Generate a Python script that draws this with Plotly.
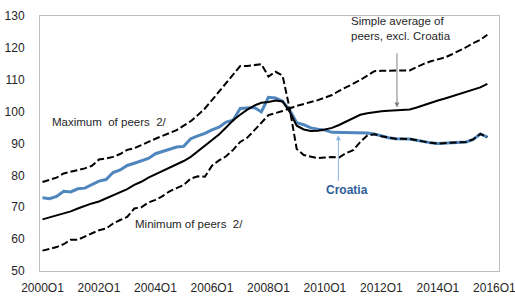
import plotly.graph_objects as go

years = list(range(2000, 2016))
quarters = [f"{y}Q{q}" for y in years for q in range(1, 5)]

croatia = [73.0, 72.7, 73.4, 75.0, 74.8, 75.8, 76.0, 77.0, 78.2, 78.7,
           80.9, 81.7, 83.1, 83.8, 84.6, 85.3, 86.8, 87.5, 88.2, 88.9,
           89.1, 91.5, 92.4, 93.2, 94.3, 95.1, 96.7, 97.3, 101.0, 101.2,
           101.3, 99.9, 104.5, 104.3, 103.3, 100.5, 96.5, 95.9, 94.9, 94.5,
           94.2, 93.5, 93.5, 93.5, 93.4, 93.3, 93.3, 93.0, 92.3, 91.8,
           91.5, 91.5, 91.4, 91.0, 90.5, 90.2, 90.0, 90.1, 90.4, 90.5,
           90.5, 91.3, 93.0, 92.0]

peer_avg = [66.2, 66.8, 67.4, 68.1, 68.7, 69.6, 70.5, 71.2, 71.8, 72.8,
            73.7, 74.7, 75.7, 77.0, 78.0, 79.3, 80.3, 81.3, 82.4, 83.3,
            84.5, 85.8, 87.5, 89.3, 91.0, 92.8, 95.0, 97.3, 99.0, 100.6,
            101.9, 102.8, 103.0, 103.5, 103.2, 100.0, 95.6, 94.4, 93.9, 94.0,
            94.4, 94.9, 95.8, 96.8, 97.9, 99.0, 99.5, 99.9, 100.1, 100.3,
            100.4, 100.5, 100.7, 101.3, 102.1, 102.9, 103.5, 104.1, 104.8, 105.5,
            106.3, 107.0, 107.6, 108.7]

peer_max = [77.9, 78.6, 79.3, 80.6, 81.1, 81.6, 82.2, 83.0, 85.0, 85.3,
            85.8, 86.7, 88.0, 88.5, 89.6, 90.5, 91.5, 92.3, 93.3, 94.2,
            95.5, 97.0, 98.9, 101.0, 103.6, 106.2, 108.8, 111.5, 114.3, 114.3,
            114.6, 114.9, 111.0, 112.5, 111.3, 101.0, 101.8, 102.3, 103.0, 103.6,
            104.4, 105.2, 106.5, 107.6, 108.6, 109.9, 111.3, 112.7, 112.8, 112.9,
            112.9, 112.9, 112.9, 114.0, 115.0, 115.8, 116.5, 117.0, 118.0, 119.0,
            120.2, 121.5, 122.5, 124.1]

peer_min = [56.4, 56.9, 57.5, 58.4, 59.8, 59.8, 60.8, 62.0, 62.8, 63.3,
            64.9, 66.0, 67.0, 69.6, 70.0, 71.5, 72.3, 73.5, 75.0, 76.0,
            77.0, 79.0, 79.7, 79.6, 83.0, 84.7, 86.0, 88.0, 90.5, 91.8,
            94.0, 96.5, 98.9, 99.5, 100.2, 101.0, 88.3, 86.4, 86.0, 85.4,
            85.6, 85.8, 85.6, 87.0, 87.9, 90.5, 92.5, 92.9, 92.3, 91.8,
            91.5, 91.5, 91.4, 91.0, 90.5, 90.2, 90.0, 90.1, 90.4, 90.5,
            90.5, 91.3, 93.0, 92.0]

tick_labels = ["2000O1", "2002O1", "2004O1", "2006O1", "2008O1",
               "2010O1", "2012O1", "2014O1", "2016O1"]
tick_pos = [i * 8 for i in range(len(tick_labels))]

x = list(range(len(quarters)))
FONT = "Liberation Sans"
dash = "7px,3px"

fig = go.Figure()
fig.add_trace(go.Scatter(x=x, y=croatia, mode="lines",
                         line=dict(color="#4F86BD", width=3)))
fig.add_trace(go.Scatter(x=x, y=peer_avg, mode="lines",
                         line=dict(color="#000000", width=2)))
fig.add_trace(go.Scatter(x=x, y=peer_max, mode="lines",
                         line=dict(color="#000000", width=2, dash=dash)))
fig.add_trace(go.Scatter(x=x, y=peer_min, mode="lines",
                         line=dict(color="#000000", width=2, dash=dash)))

txt = dict(family=FONT, size=11.5, color="#262626")
ann = [
    dict(x=9.56, y=96.8, text="Maximum  of peers  2/", showarrow=False, font=txt),
    dict(x=20.75, y=64.6, text="Minimum of peers  2/", showarrow=False, font=txt),
    dict(x=43.4, y=126.2, xanchor="left",
         text="Simple average of<br>peers, excl. Croatia", align="left",
         showarrow=False, font=txt),
    dict(x=43.1, y=75.3, text="<b>Croatia</b>", showarrow=False,
         font=dict(family=FONT, size=12, color="#2E5E9A")),
    dict(x=50.2, y=101.3, ax=50.2, ay=118.7, axref="x", ayref="y", text="",
         showarrow=True, arrowhead=2, arrowsize=1, arrowwidth=1, arrowcolor="#7F7F7F"),
    dict(x=41.9, y=92.6, ax=41.9, ay=77.8, axref="x", ayref="y", text="",
         showarrow=True, arrowhead=2, arrowsize=1, arrowwidth=1, arrowcolor="#8EB4E3"),
]

fig.update_layout(
    width=515, height=296,
    margin=dict(l=40, r=16, t=16, b=25),
    paper_bgcolor="white", plot_bgcolor="white",
    showlegend=False,
    annotations=ann,
    font=dict(family=FONT, size=12, color="#262626"),
)
fig.update_xaxes(range=[-0.35, 64.65], tickvals=tick_pos, ticktext=tick_labels,
                 showgrid=False, zeroline=False, showline=True, linecolor="#BFBFBF",
                 linewidth=1, mirror=True, ticks="", ticklabelstandoff=6,
                 ticklabeloverflow="allow", automargin=False,
                 tickfont=dict(family=FONT, size=12, color="#262626"))
fig.update_yaxes(range=[50, 130], dtick=10, showgrid=False, zeroline=False,
                 showline=True, linecolor="#BFBFBF", linewidth=1, mirror=True,
                 ticks="", ticklabelstandoff=12, automargin=False,
                 tickfont=dict(family=FONT, size=12, color="#262626"))

fig.write_html("out.html", config={"displayModeBar": False},
               post_script="document.body.style.margin='0';")
